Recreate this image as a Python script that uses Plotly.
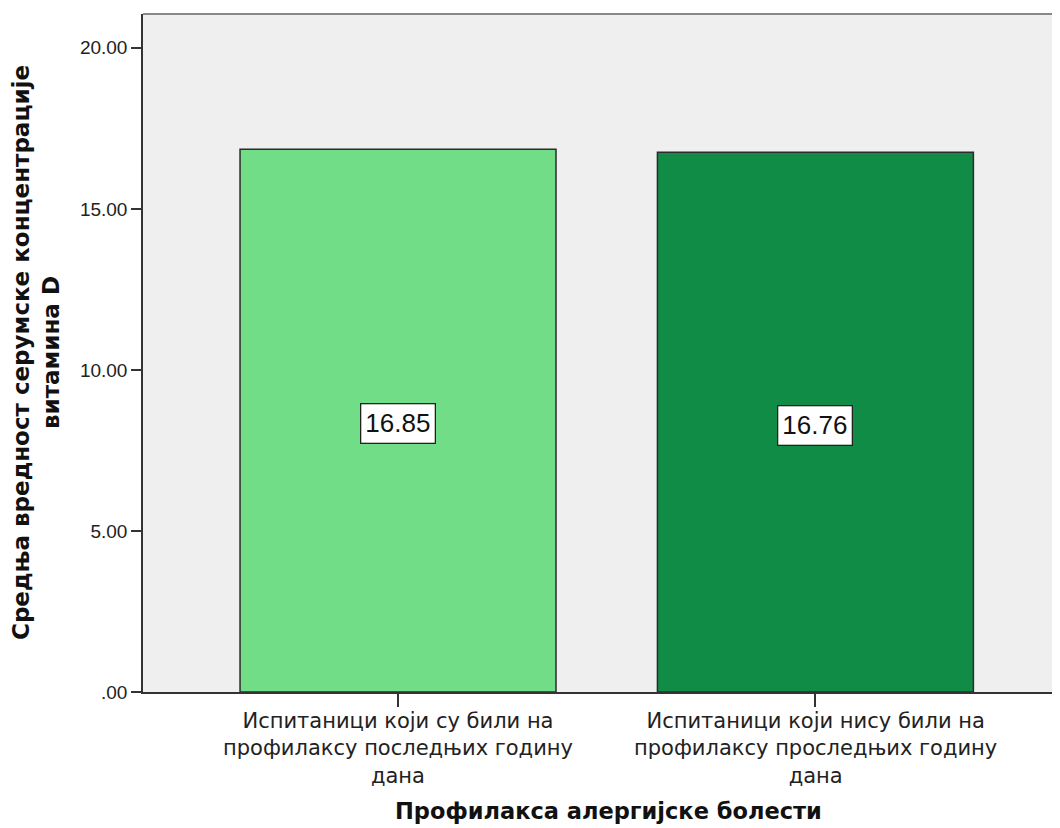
import plotly.graph_objects as go

categories = [
    "Испитаници који су били на<br>профилаксу последњих годину<br>дана",
    "Испитаници који нису били на<br>профилаксу прослeдњих годину<br>дана",
]
values = [16.85, 16.76]
colors = ["#72DD87", "#118C46"]
y_ticks = [0, 5, 10, 15, 20]
y_tick_labels = [".00", "5.00", "10.00", "15.00", "20.00"]
x_title = "Профилакса алергијске болести"
y_title = "Средња вредност серумске концентрације<br>витамина D"

xs = list(range(len(values)))
BODY = "Liberation Sans, Arial, sans-serif"
WIDE = "DejaVu Sans, Liberation Sans, sans-serif"

fig = go.Figure()
fig.add_trace(go.Bar(
    x=xs, y=values, width=0.757,
    marker=dict(color=colors, line=dict(color="#2b2b2b", width=1.5)),
    hoverinfo="skip",
))

# value labels in white boxes
for xi, v in zip(xs, values):
    fig.add_annotation(
        x=xi, y=v / 2, text=f"{v:.2f}", showarrow=False, yshift=-3,
        font=dict(family=BODY, size=26, color="#111"),
        bgcolor="white", bordercolor="#222", borderwidth=1.3, borderpad=4,
    )

# category labels
for xi, lab in zip(xs, categories):
    fig.add_annotation(
        x=xi, xref="x", y=0, yref="paper", yshift=-56,
        text=lab, showarrow=False, xanchor="center", yanchor="middle",
        font=dict(family=WIDE, size=21, color="#222"),
    )

# axis titles
fig.add_annotation(
    x=0.5, xref="paper", y=0, yref="paper", yshift=-119, xshift=7,
    text=f"<b>{x_title}</b>", showarrow=False, xanchor="center", yanchor="middle",
    font=dict(family=WIDE, size=22.5, color="#111"),
)
fig.add_annotation(
    x=0, xref="paper", y=0.5, yref="paper", xshift=-107,
    text=f"<b>{y_title}</b>", showarrow=False, textangle=-90,
    xanchor="center", yanchor="middle",
    font=dict(family=WIDE, size=23, color="#111"),
)

fig.update_layout(
    width=1052, height=820,
    margin=dict(l=135, r=0, t=6, b=136),
    paper_bgcolor="white", plot_bgcolor="#EFEFEF",
    showlegend=False,
    font=dict(family=BODY, color="#222"),
    xaxis=dict(
        range=[-0.611, 1.586],
        tickvals=xs, ticktext=["" for _ in xs],
        ticks="outside", ticklen=13, tickcolor="#333", tickwidth=1.5,
        showgrid=False, zeroline=False,
        showline=True, linecolor="#333", linewidth=1.5,
    ),
    yaxis=dict(
        range=[0, 21.05],
        tickvals=y_ticks, ticktext=y_tick_labels,
        ticks="outside", ticklen=10, tickcolor="#333", tickwidth=1.5,
        tickfont=dict(family=BODY, size=19, color="#222"),
        showgrid=False, zeroline=False,
        showline=True, linecolor="#333", linewidth=1.5,
    ),
)

fig.add_shape(type="line", xref="paper", yref="paper", x0=0, x1=1, y0=1, y1=1,
              line=dict(color="#888", width=2))

fig.write_html("out.html")
